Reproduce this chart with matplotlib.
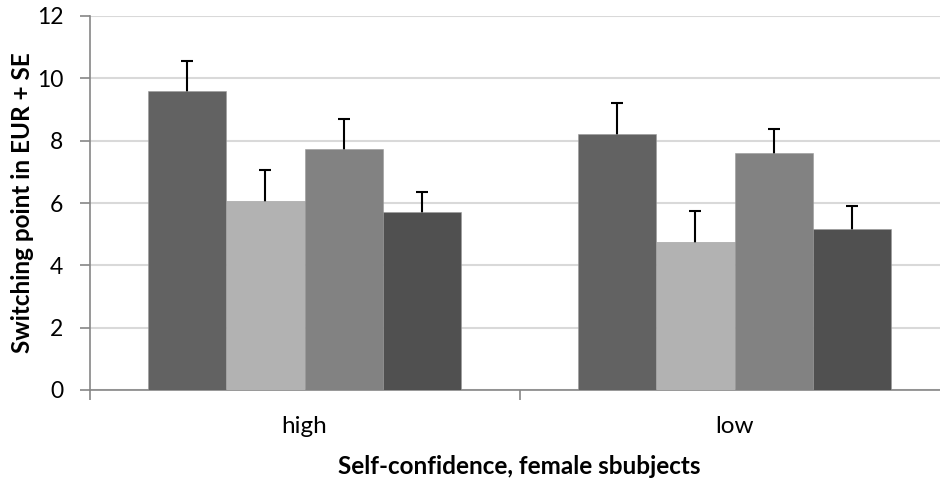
import numpy as np
import matplotlib.pyplot as plt

plt.rcParams['font.family'] = ['Lato', 'DejaVu Sans']

categories = ["high", "low"]
means = [
    [9.58, 8.21],
    [6.05, 4.74],
    [7.72, 7.61],
    [5.70, 5.15],
]
se = [
    [0.99, 1.01],
    [1.01, 1.01],
    [0.96, 0.75],
    [0.64, 0.76],
]
colors = ["#626262", "#b2b2b2", "#828282", "#505050"]

fig = plt.figure(figsize=(9.4, 4.8), dpi=100)
ax = fig.add_axes([89.5 / 940, 90 / 480, 860 / 940, 374 / 480])

x = np.arange(len(categories))
w = 0.1816
for i, (m, s, c) in enumerate(zip(means, se, colors)):
    pos = x + (i - 1.5) * w
    ax.bar(pos, m, width=w, color=c, edgecolor="#9a9a9a", linewidth=0.4, zorder=3)
    # symmetric bars, lower half hidden behind the bar
    ax.errorbar(pos, m, yerr=s, fmt="none", ecolor="black",
                elinewidth=1.5, capsize=4.5, capthick=1.5, zorder=2)

ax.set_xlim(-0.5, 1.5)
ax.set_ylim(0, 12)
ax.set_yticks(range(0, 13, 2))
ax.yaxis.grid(True, color="#d9d9d9", linewidth=1.5, zorder=0)
ax.set_axisbelow(True)

ax.set_xticks([-0.5, 0.5, 1.5])
ax.set_xticklabels([])
ax.set_xticks(x, minor=True)
ax.set_xticklabels(categories, minor=True)
ax.tick_params(axis="x", which="minor", length=0, pad=19, labelsize=17.5)
ax.tick_params(axis="x", which="major", length=7, color="#868686", width=1.2)
ax.tick_params(axis="y", length=7, color="#868686", width=1.2, labelsize=16.5, pad=12)

for side in ["top", "right"]:
    ax.spines[side].set_visible(False)
for side in ["left", "bottom"]:
    ax.spines[side].set_color("#868686")
    ax.spines[side].set_linewidth(1.2)

ax.set_ylabel("Switching point in EUR + SE", fontsize=17.5, fontweight="bold")
ax.yaxis.set_label_coords(-0.064, 0.5)
ax.set_xlabel("Self-confidence, female sbubjects", fontsize=17.5, fontweight="bold", labelpad=13)

fig.savefig("out.png", dpi=100)
